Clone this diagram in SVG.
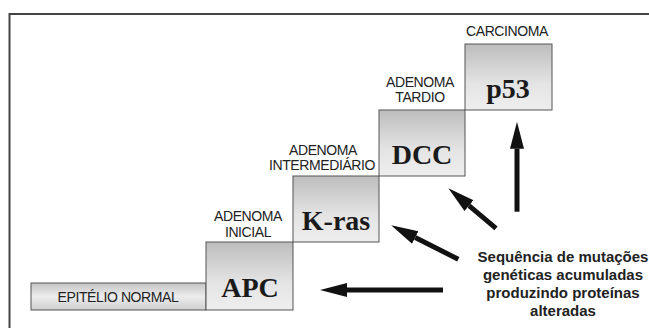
<svg xmlns="http://www.w3.org/2000/svg" width="649" height="328" viewBox="0 0 649 328">
<defs>
<linearGradient id="g" x1="0" y1="0" x2="0" y2="1">
<stop offset="0" stop-color="#bdbdbd"/>
<stop offset="0.6" stop-color="#e4e4e4"/>
<stop offset="1" stop-color="#eeeeee"/>
</linearGradient>
<linearGradient id="gh" x1="0" y1="0" x2="0" y2="1">
<stop offset="0" stop-color="#c4c4c4"/>
<stop offset="0.5" stop-color="#ececec"/>
<stop offset="1" stop-color="#cfcfcf"/>
</linearGradient>
<marker id="ah" markerUnits="userSpaceOnUse" markerWidth="28" markerHeight="16" refX="0" refY="7" orient="auto" viewBox="0 0 28 14">
<path d="M0,0 L27,7 L0,14 Z" fill="#111"/>
</marker>
<style>
.box{fill:url(#g);stroke:#555;stroke-width:1}
.lbl{font-family:"Liberation Sans",Arial,sans-serif;font-size:14px;letter-spacing:-0.4px;fill:#222;text-anchor:middle}
.gene{font-family:"Liberation Serif","Times New Roman",serif;font-weight:bold;font-size:28px;fill:#1a1a1a;text-anchor:middle}
.note{font-family:"Liberation Sans",Arial,sans-serif;font-weight:bold;font-size:15px;fill:#222;text-anchor:middle}
.arr{stroke:#111;stroke-width:5;fill:none}
</style>
</defs>
<rect width="649" height="328" fill="#fff"/>
<path d="M9.5,328 L9.5,14 L649,14" fill="none" stroke="#444" stroke-width="2"/>

<g id="epitelio">
<rect x="31" y="283" width="175" height="27" fill="url(#gh)" stroke="#555" stroke-width="1"/>
<text class="lbl" x="118" y="302">EPITÉLIO NORMAL</text>
</g>
<g id="apc">
<rect class="box" x="206" y="242" width="87" height="68"/>
<text class="gene" x="250" y="297">APC</text>
<text class="lbl" x="248" y="221">ADENOMA</text>
<text class="lbl" x="248" y="237">INICIAL</text>
</g>
<g id="kras">
<rect class="box" x="293" y="176" width="86" height="66"/>
<text class="gene" x="336" y="230">K-ras</text>
<text class="lbl" x="323" y="155">ADENOMA</text>
<text class="lbl" x="322" y="170">INTERMEDIÁRIO</text>
</g>
<g id="dcc">
<rect class="box" x="379" y="110" width="86" height="66"/>
<text class="gene" x="422" y="164">DCC</text>
<text class="lbl" x="420" y="87">ADENOMA</text>
<text class="lbl" x="420" y="102">TARDIO</text>
</g>
<g id="p53">
<rect class="box" x="465" y="44" width="87" height="66"/>
<text class="gene" x="508" y="98">p53</text>
<text class="lbl" x="507" y="36">CARCINOMA</text>
</g>

<g id="connectors">
<line class="arr" x1="443" y1="290" x2="347" y2="290" marker-end="url(#ah)"/>
<line class="arr" x1="458.3" y1="259.3" x2="415.2" y2="237.4" marker-end="url(#ah)"/>
<line class="arr" x1="496" y1="228.3" x2="469" y2="205.6" marker-end="url(#ah)"/>
<line class="arr" x1="517" y1="211.7" x2="517" y2="148.7" marker-end="url(#ah)"/>
</g>

<g id="note">
<text class="note" x="563" y="262">Sequência de mutações</text>
<text class="note" x="563" y="280">genéticas acumuladas</text>
<text class="note" x="563" y="298">produzindo proteínas</text>
<text class="note" x="563" y="316">alteradas</text>
</g>
</svg>
